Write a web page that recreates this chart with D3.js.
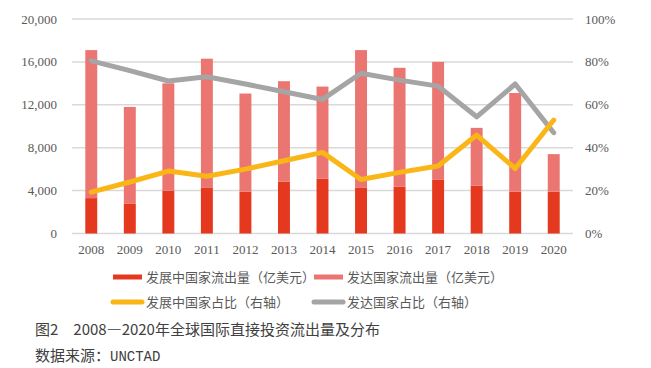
<!DOCTYPE html>
<html lang="zh">
<head>
  <meta charset="UTF-8">
  <title>2008—2020年全球国际直接投资流出量及分布</title>
  <script src="https://d3js.org/d3.v7.min.js"></script>
  <style>
    body { margin: 0; background: #fff; }
    .tick-label { font-family: "Liberation Serif", serif; font-size: 13px; fill: #595959; }
    .legend text { font-family: "Noto Sans CJK SC", sans-serif; font-size: 13px; fill: #595959; }
    .caption { font-family: "Noto Sans CJK SC", sans-serif; font-size: 15px; fill: #404040; }
  </style>
</head>
<body>
  <svg width="651" height="368"></svg>
  <script>
    // data
    const years = ["2008","2009","2010","2011","2012","2013","2014","2015","2016","2017","2018","2019","2020"];
    const developingFlow = [3300, 2800, 4000, 4300, 3900, 4850, 5100, 4250, 4350, 5000, 4450, 3900, 3900];
    const developedFlow  = [13800, 9000, 10000, 12000, 9150, 9350, 8600, 12850, 11100, 11000, 5400, 9200, 3500];
    const developingShare = [19.3, 24.0, 29.1, 26.7, 30.0, 33.9, 37.8, 25.2, 28.5, 31.5, 45.9, 30.3, 52.9];
    const developedShare  = [80.5, 75.9, 71.1, 73.1, 69.7, 66.1, 62.5, 74.7, 71.5, 68.7, 54.4, 69.7, 47.0];
    const leftTicks = [0, 4000, 8000, 12000, 16000, 20000];
    const rightTicks = [0, 20, 40, 60, 80, 100];

    const colors = {
      developing: "#E5391F",
      developed: "#EB7571",
      devShare: "#FAB616",
      advShare: "#A5A5A5"
    };

    const svg = d3.select("svg");
    const plot = { left: 72, right: 573, top: 19, bottom: 233.5 };

    const x = d3.scaleBand().domain(years).range([plot.left, plot.right])
      .paddingInner(0.69).paddingOuter(0.345);
    const y = d3.scaleLinear().domain([0, 20000]).range([plot.bottom, plot.top]);
    const y2 = d3.scaleLinear().domain([0, 100]).range([plot.bottom, plot.top]);

    // gridlines
    svg.append("g").selectAll("line").data(leftTicks).join("line")
      .attr("x1", plot.left).attr("x2", plot.right)
      .attr("y1", d => y(d)).attr("y2", d => y(d))
      .attr("stroke", "#D9D9D9").attr("stroke-width", 1.5);

    // left axis labels
    svg.append("g").selectAll("text").data(leftTicks).join("text")
      .attr("class", "tick-label")
      .attr("x", 57).attr("y", d => y(d)).attr("dy", "0.35em")
      .attr("text-anchor", "end")
      .text(d => d3.format(",")(d));

    // right axis labels
    svg.append("g").selectAll("text").data(rightTicks).join("text")
      .attr("class", "tick-label")
      .attr("x", 585).attr("y", d => y2(d)).attr("dy", "0.35em")
      .text(d => d + "%");

    // x labels
    svg.append("g").selectAll("text").data(years).join("text")
      .attr("class", "tick-label")
      .attr("x", d => x(d) + x.bandwidth() / 2).attr("y", 254)
      .attr("text-anchor", "middle")
      .text(d => d);

    // stacked bars
    const rows = years.map((yr, i) => ({ year: yr, developing: developingFlow[i], developed: developedFlow[i] }));
    const stack = d3.stack().keys(["developing", "developed"])(rows);
    svg.append("g").selectAll("g").data(stack).join("g")
      .attr("fill", d => colors[d.key])
      .selectAll("rect").data(d => d).join("rect")
      .attr("x", d => x(d.data.year))
      .attr("width", x.bandwidth())
      .attr("y", d => y(d[1]))
      .attr("height", d => y(d[0]) - y(d[1]));

    // share lines
    const line = d3.line()
      .x((d, i) => x(years[i]) + x.bandwidth() / 2)
      .y(d => y2(d));
    [[developedShare, colors.advShare], [developingShare, colors.devShare]].forEach(([vals, c]) => {
      svg.append("path")
        .attr("d", line(vals))
        .attr("fill", "none")
        .attr("stroke", c)
        .attr("stroke-width", 5)
        .attr("stroke-linejoin", "round")
        .attr("stroke-linecap", "round");
    });

    // legend
    const legend = svg.append("g").attr("class", "legend");
    const items = [
      { label: "发展中国家流出量（亿美元）", color: colors.developing, type: "rect", x: 113, y: 277 },
      { label: "发达国家流出量（亿美元）", color: colors.developed, type: "rect", x: 314, y: 277 },
      { label: "发展中国家占比（右轴）", color: colors.devShare, type: "line", x: 113, y: 302 },
      { label: "发达国家占比（右轴）", color: colors.advShare, type: "line", x: 314, y: 302 }
    ];
    items.forEach(it => {
      if (it.type === "rect") {
        legend.append("rect").attr("x", it.x).attr("y", it.y - 2.5)
          .attr("width", 29).attr("height", 5).attr("fill", it.color);
      } else {
        legend.append("line").attr("x1", it.x).attr("x2", it.x + 29)
          .attr("y1", it.y).attr("y2", it.y)
          .attr("stroke", it.color).attr("stroke-width", 5).attr("stroke-linecap", "round");
      }
      legend.append("text").attr("x", it.x + 33).attr("y", it.y).attr("dy", "0.36em").text(it.label);
    });

    // caption
    svg.append("text").attr("class", "caption").attr("x", 35).attr("y", 335)
      .text("图2　2008—2020年全球国际直接投资流出量及分布");
    const src = svg.append("text").attr("class", "caption").attr("x", 35).attr("y", 361);
    src.append("tspan").text("数据来源：");
    src.append("tspan").style("font-family", "'Liberation Mono', monospace").style("font-size", "14px").text("UNCTAD");
  </script>
</body>
</html>
